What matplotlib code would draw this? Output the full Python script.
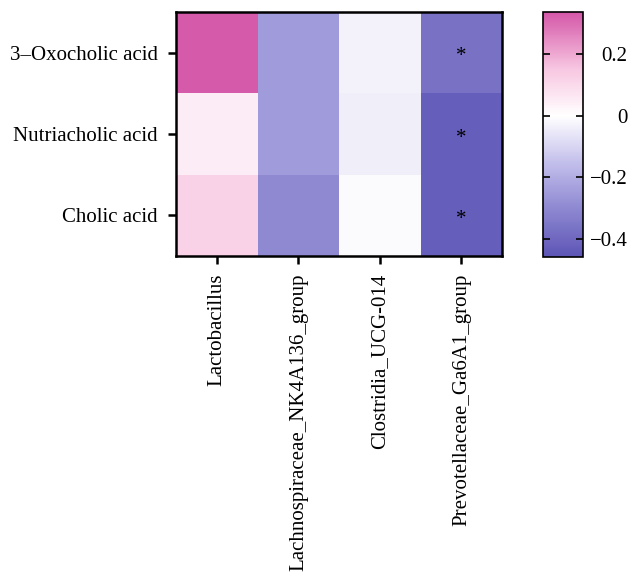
import numpy as np
import matplotlib
matplotlib.use("Agg")
import matplotlib.pyplot as plt
from matplotlib.colors import LinearSegmentedColormap, Normalize

plt.rcParams['font.family'] = ['Liberation Serif', 'DejaVu Serif']

acids = ["3\u2013Oxocholic acid", "Nutriacholic acid", "Cholic acid"]
genera = ["Lactobacillus", "Lachnospiraceae_NK4A136_group",
          "Clostridia_UCG-014", "Prevotellaceae_Ga6A1_group"]
corr = np.array([
    [0.33, -0.25, -0.03, -0.37],
    [0.05, -0.25, -0.04, -0.43],
    [0.12, -0.30, -0.01, -0.43],
])
signif = np.array([
    [False, False, False, True],
    [False, False, False, True],
    [False, False, False, True],
])
vmin, vmax = -0.46, 0.34
cbar_ticks = [0.2, 0, -0.2, -0.4]

# colour stops (value, colour); white sits at zero
stops = [(vmin, "#5d55b5"), (-0.30, "#8f89d2"), (-0.15, "#c4c0ec"),
         (0.0, "#ffffff"), (0.15, "#f8c8e2"), (vmax, "#d456a8")]
cmap = LinearSegmentedColormap.from_list(
    "pw", [((v - vmin) / (vmax - vmin), c) for v, c in stops])
norm = Normalize(vmin=vmin, vmax=vmax)

fig = plt.figure(figsize=(6.31, 5.75), dpi=100)
ax = fig.add_axes([0.279, 0.555, 0.517, 0.424])
cax = fig.add_axes([0.8605, 0.553, 0.0634, 0.427])

im = ax.imshow(corr, cmap=cmap, norm=norm, aspect="auto")
for i in range(corr.shape[0]):
    for j in range(corr.shape[1]):
        if signif[i, j]:
            ax.text(j, i + 0.05, "*", ha="center", va="center", fontsize=15)

ax.set_xticks(range(len(genera)))
ax.set_xticklabels(genera, rotation=90, fontsize=15)
ax.set_yticks(range(len(acids)))
ax.set_yticklabels(acids, fontsize=15)
ax.tick_params(axis="x", length=6, width=1.8, pad=7)
ax.tick_params(axis="y", length=6, width=1.8, pad=7)
for s in ax.spines.values():
    s.set_linewidth(1.8)

cb = fig.colorbar(im, cax=cax)
cb.set_ticks(cbar_ticks)
cb.set_ticklabels(["0.2", "0", "\u22120.2", "\u22120.4"])
cb.ax.tick_params(direction="in", left=True, right=True, length=5, width=1.2,
                  labelsize=15, pad=32)
for lab in cb.ax.get_yticklabels():
    lab.set_horizontalalignment("right")
cb.outline.set_linewidth(1.2)

fig.savefig("out.png", dpi=100)
